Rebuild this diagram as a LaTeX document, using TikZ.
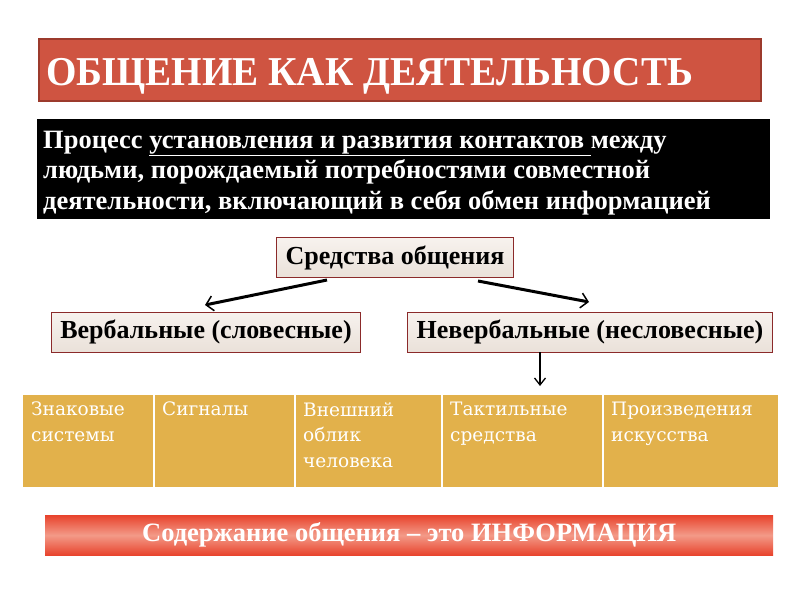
\documentclass[tikz,border=0pt]{standalone}
\usepackage{fontspec}
\setmainfont{Liberation Serif}
\newfontfamily\cellfont{DejaVu Serif}
\newfontfamily\titlefont[FakeStretch=0.955]{Liberation Serif}
\usetikzlibrary{arrows.meta}
\definecolor{titlered}{HTML}{CF5441}
\definecolor{titleedge}{HTML}{9C3A2C}
\definecolor{tablegold}{HTML}{E2B14B}
\definecolor{boxedge}{HTML}{8B2A2A}
\definecolor{boxtop}{HTML}{F7F2EE}
\definecolor{boxbot}{HTML}{EAE1D9}
\definecolor{barred}{HTML}{E8432C}
\definecolor{barlight}{HTML}{F39A88}
\tikzset{
  titlebox/.style={draw=titleedge, line width=1.5pt, fill=titlered, anchor=north west, inner sep=0pt},
  defbox/.style={fill=black, anchor=north west, inner sep=0pt},
  meansbox/.style={draw=boxedge, line width=0.9pt, top color=boxtop, bottom color=boxbot, inner xsep=9pt, inner ysep=0pt, minimum height=40pt, font=\bfseries\fontsize{26}{28}\selectfont, text=black},
  cell/.style={anchor=north west, align=left, text=white, font=\cellfont\fontsize{18.5}{25.5}\selectfont, inner sep=0pt},
  sep/.style={draw=white, line width=1.2pt},
  thickarrow/.style={line width=3pt, -{Straight Barb[length=7pt,width=15pt,line width=1.5pt]}},
  thinarrow/.style={line width=1.8pt, -{Straight Barb[length=7pt,width=11pt,line width=1.3pt]}},
  defline/.style={anchor=base west, inner sep=0pt, text=white, font=\bfseries\fontsize{26.5}{28}\selectfont}
}
\begin{document}
\begin{tikzpicture}[x=1pt,y=-1pt]
\useasboundingbox (0,0) rectangle (800,600);
\fill[white] (0,0) rectangle (800,600);
% title
\node[titlebox, minimum width=722pt, minimum height=62pt] (title) at (38,38) {};
\node[anchor=base west, inner sep=0pt, text=white, font=\titlefont\bfseries\fontsize{41}{43}\selectfont] (titletext) at (46,85) {ОБЩЕНИЕ КАК ДЕЯТЕЛЬНОСТЬ};
% definition
\node[defbox, minimum width=733pt, minimum height=100pt] (def) at (37,119) {};
\node[defline] (l1) at (43,148) {Процесс \underline{установления и развития контактов\ }между};
\node[defline] (l2) at (43,178.5) {людьми, порождаемый потребностями совместной};
\node[defline] (l3) at (43,209) {деятельности, включающий в себя обмен информацией};
% means
\node[meansbox] (means) at (395,257.5) {Средства общения};
\node[meansbox] (verb) at (206,332) {Вербальные (словесные)};
\node[meansbox] (nonverb) at (590,332) {Невербальные (несловесные)};
\coordinate (a1s) at (327,280);
\coordinate (a1e) at (205,305);
\coordinate (a2s) at (478,281);
\coordinate (a2e) at (589,302);
\draw[thickarrow] (a1s) -- (a1e);
\draw[thickarrow] (a2s) -- (a2e);
\coordinate (dn) at (540,386);
\draw[thinarrow] (nonverb.south -| dn) -- (dn);
% table
\node[fill=tablegold, anchor=north west, minimum width=755pt, minimum height=92pt, inner sep=0pt] (table) at (23,395) {};
\draw[sep] (154,395) -- (154,487);
\draw[sep] (295,395) -- (295,487);
\draw[sep] (442,395) -- (442,487);
\draw[sep] (603,395) -- (603,487);
\node[cell] (c1) at (31,402) {Знаковые\\системы};
\node[cell] (c2) at (162,402) {Сигналы};
\node[cell] (c3) at (303,402) {Внешний\\облик\\человека};
\node[cell] (c4) at (450,402) {Тактильные\\средства};
\node[cell] (c5) at (611,402) {Произведения\\искусства};
% bottom bar
\node[anchor=north west, minimum width=728pt, minimum height=40pt, inner sep=0pt, top color=barred, bottom color=barred, middle color=barlight] (bar) at (45,515) {};
\node[text=white, font=\bfseries\fontsize{26.5}{28}\selectfont, inner sep=0pt] (bartext) at (bar.center) {Содержание общения – это ИНФОРМАЦИЯ};
\end{tikzpicture}
\end{document}
